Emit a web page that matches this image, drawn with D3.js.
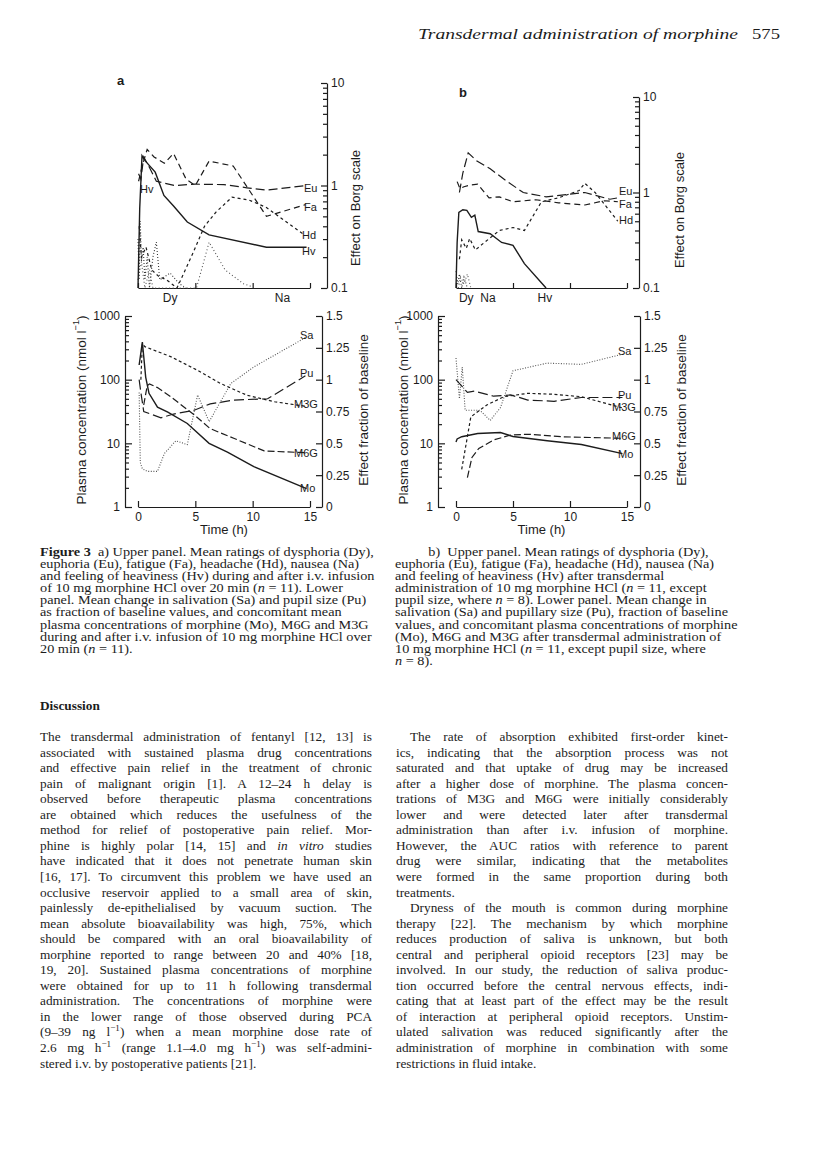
<!DOCTYPE html>
<html>
<head>
<meta charset="utf-8">
<script src="https://cdn.jsdelivr.net/npm/d3@7"></script>
<style>
  body { margin: 0; background: #fff; }
  svg { display: block; }
  text { white-space: pre; }
</style>
</head>
<body>
<svg id="page" width="816" height="1160"></svg>
<script>
// ---- data: upper panels, effect on Borg scale (hours, rating) ----
const upA_Eu = [[0.05,1.3],[0.25,1.15],[0.5,1.9],[1.0,1.5],[1.6,1.1],[3.2,1.0],[5,1.03],[7.5,1.02],[9.5,0.95],[11.2,0.9],[14.7,1.0]];
const upA_Fa = [[0.05,1.1],[0.4,1.6],[0.8,2.25],[1.4,1.9],[2.3,1.65],[3.1,2.05],[4.2,1.15],[5.0,1.0],[6.2,1.73],[8.3,1.55],[9.7,0.9],[11.2,0.5],[14.6,0.65]];
const upA_Hd = [[0.1,0.4],[0.3,0.2],[0.7,0.25],[1.2,0.15],[1.8,0.13],[2.5,0.12],[3.4,0.1],[4.8,0.22],[5.8,0.4],[6.8,0.55],[8.2,0.77],[9.7,0.72],[11.2,0.61],[14.5,0.33]];
const upA_Hv = [[0,0.1],[0.15,0.6],[0.35,1.95],[0.65,1.73],[1.5,1.35],[2.26,0.8],[3.1,0.63],[4.3,0.44],[6.2,0.33],[11.2,0.25],[14.7,0.25]];
const upA_Dy = [[0,0.3],[0.1,0.12],[0.2,0.45],[0.3,0.18],[0.45,0.25],[0.6,0.12],[0.8,0.2],[1.0,0.1],[1.3,0.2],[1.6,0.28],[1.9,0.12],[2.8,0.14],[3.6,0.11],[4.2,0.1]];
const upA_Na = [[0,0.12],[0.3,0.18],[0.6,0.1],[1.0,0.15],[1.3,0.1],[5.1,0.1],[6.2,0.28],[7.6,0.15],[9.2,0.11],[10.3,0.1]];

const upB_Eu = [[0.3,1.0],[0.6,1.6],[1.07,2.6],[1.8,2.15],[3,1.77],[4.5,1.3],[5.9,1.0],[7.9,0.9],[11.3,1.0],[13.5,0.85],[14.2,0.88]];
const upB_Fa = [[0.1,1.3],[0.35,1.1],[0.7,1.15],[1.3,1.2],[1.9,1.22],[2.9,0.88],[3.8,0.9],[5,0.8],[7,0.84],[9,0.78],[11.3,0.74],[13,0.82],[14.2,0.8]];
const upB_Hd = [[0.3,0.2],[0.5,0.32],[0.9,0.26],[1.2,0.33],[1.7,0.25],[2.5,0.3],[3.8,0.4],[5,0.43],[6,0.4],[7.5,0.8],[9,0.88],[10.8,1.05],[11.3,1.25],[12.2,1.0],[14.2,0.5]];
const upB_Hv = [[0,0.1],[0.1,0.3],[0.25,0.62],[0.6,0.66],[0.95,0.65],[1.35,0.55],[1.65,0.58],[1.95,0.39],[3,0.37],[4,0.3],[5,0.28],[6,0.18],[7.9,0.1]];
const upB_Dy = [[0,0.15],[0.15,0.11],[0.3,0.14],[0.5,0.1],[0.7,0.13],[1.0,0.1]];
const upB_Na = [[0.2,0.1],[0.4,0.13],[0.7,0.11],[1.0,0.14],[1.3,0.1]];

// ---- data: lower panels, plasma conc. (nmol/l) and effect fraction ----
const loA_Mo  = [[0.1,170],[0.38,390],[0.67,110],[0.96,61],[1.7,37],[2.6,31],[4.3,20.5],[6.2,10],[7.8,7.3],[10.1,4.3],[14.7,1.95]];
const loA_M6G = [[0.5,40],[0.8,80],[1.0,86],[1.7,75],[2.85,54],[4.9,28],[6.3,17],[8.4,11.9],[11,7.6],[14.7,7.1]];
const loA_M3G = [[0.25,100],[0.38,370],[0.6,330],[2.85,230],[5.2,140],[7.2,87],[9.5,57],[11.9,45],[14.7,38]];
const loA_Pu  = [[0.1,1.0],[0.25,0.9],[0.5,0.75],[1.1,0.73],[2.0,0.7],[3.1,0.73],[4.9,0.76],[6.3,0.81],[8.4,0.84],[11.3,0.85],[14.6,1.03]];
const loA_Sa  = [[0.1,0.9],[0.2,0.35],[0.38,0.3],[0.8,0.28],[1.7,0.28],[2.3,0.42],[3.3,0.52],[4.3,0.49],[5.2,0.88],[6.2,0.67],[8.1,0.97],[10.1,1.1],[14.6,1.33]];

const loB_Mo  = [[0,10.5],[0.1,11.7],[0.5,12.7],[1.9,14.3],[3.9,14.8],[5,12.8],[8,11],[11,9.6],[14.6,6.9]];
const loB_M6G = [[1.0,2.9],[1.4,6.0],[2,8.3],[3.3,11.3],[4.8,13.5],[6.3,13.9],[9.2,12.7],[14.6,12]];
const loB_M3G = [[0.5,3.9],[1.3,26],[2.7,40],[4.2,54],[6.3,61],[8.6,59],[11,54],[14.6,36]];
const loB_Pu  = [[0,1.0],[1.0,0.9],[1.6,0.91],[3.3,0.87],[4.8,0.88],[6.3,0.84],[8.6,0.83],[11,0.86],[14.6,0.86]];
const loB_Sa  = [[0,1.17],[0.3,0.85],[0.55,1.1],[0.8,0.76],[2.1,0.76],[3,0.68],[3.9,0.78],[5,1.07],[8,1.13],[11,1.12],[14.6,1.2]];

// tick labels / names
const timeTicks = [0, 5, 10, 15];
const borgTicks = [0.1, 1, 10];
const concTicks = [1, 10, 100, 1000];
const fracTicks = [0, 0.25, 0.5, 0.75, 1, 1.25, 1.5];
const bottomNamesA = [["Dy", 2.8], ["Na", 12.6]];
const bottomNamesB = [["Dy", 0.9], ["Na", 2.8], ["Hv", 7.8]];

// ---- text ----
const headerTitle = "Transdermal administration of morphine";
const headerPage = "575";
const captionA = [
  "*Figure 3*  a) Upper panel. Mean ratings of dysphoria (Dy),",
  "euphoria (Eu), fatigue (Fa), headache (Hd), nausea (Na)",
  "and feeling of heaviness (Hv) during and after i.v. infusion",
  "of 10 mg morphine HCl over 20 min (_n_ = 11). Lower",
  "panel. Mean change in salivation (Sa) and pupil size (Pu)",
  "as fraction of baseline values, and concomitant mean",
  "plasma concentrations of morphine (Mo), M6G and M3G",
  "during and after i.v. infusion of 10 mg morphine HCl over",
  "20 min (_n_ = 11)."
];
const captionB = [
  "b)  Upper panel. Mean ratings of dysphoria (Dy),",
  "euphoria (Eu), fatigue (Fa), headache (Hd), nausea (Na)",
  "and feeling of heaviness (Hv) after transdermal",
  "administration of 10 mg morphine HCl (_n_ = 11, except",
  "pupil size, where _n_ = 8). Lower panel. Mean change in",
  "salivation (Sa) and pupillary size (Pu), fraction of baseline",
  "values, and concomitant plasma concentrations of morphine",
  "(Mo), M6G and M3G after transdermal administration of",
  "10 mg morphine HCl (_n_ = 11, except pupil size, where",
  "_n_ = 8)."
];
// "|" marks the last (unjustified) line of a paragraph, ">" an indented first line
const bodyLeft = [
  "The transdermal administration of fentanyl [12, 13] is",
  "associated with sustained plasma drug concentrations",
  "and effective pain relief in the treatment of chronic",
  "pain of malignant origin [1]. A 12–24 h delay is",
  "observed before therapeutic plasma concentrations",
  "are obtained which reduces the usefulness of the",
  "method for relief of postoperative pain relief. Mor-",
  "phine is highly polar [14, 15] and _in vitro_ studies",
  "have indicated that it does not penetrate human skin",
  "[16, 17]. To circumvent this problem we have used an",
  "occlusive reservoir applied to a small area of skin,",
  "painlessly de-epithelialised by vacuum suction. The",
  "mean absolute bioavailability was high, 75%, which",
  "should be compared with an oral bioavailability of",
  "morphine reported to range between 20 and 40% [18,",
  "19, 20]. Sustained plasma concentrations of morphine",
  "were obtained for up to 11 h following transdermal",
  "administration. The concentrations of morphine were",
  "in the lower range of those observed during PCA",
  "(9–39 ng l^−1^) when a mean morphine dose rate of",
  "2.6 mg h^−1^ (range 1.1–4.0 mg h^−1^) was self-admini-",
  "|stered i.v. by postoperative patients [21]."
];
const bodyRight = [
  ">The rate of absorption exhibited first-order kinet-",
  "ics, indicating that the absorption process was not",
  "saturated and that uptake of drug may be increased",
  "after a higher dose of morphine. The plasma concen-",
  "trations of M3G and M6G were initially considerably",
  "lower and were detected later after transdermal",
  "administration than after i.v. infusion of morphine.",
  "However, the AUC ratios with reference to parent",
  "drug were similar, indicating that the metabolites",
  "were formed in the same proportion during both",
  "|treatments.",
  ">Dryness of the mouth is common during morphine",
  "therapy [22]. The mechanism by which morphine",
  "reduces production of saliva is unknown, but both",
  "central and peripheral opioid receptors [23] may be",
  "involved. In our study, the reduction of saliva produc-",
  "tion occurred before the central nervous effects, indi-",
  "cating that at least part of the effect may be the result",
  "of interaction at peripheral opioid receptors. Unstim-",
  "ulated salivation was reduced significantly after the",
  "administration of morphine in combination with some",
  "|restrictions in fluid intake."
];

const ink = "#1c1c1c";
const serif = "'Liberation Serif', 'DejaVu Serif', serif";
const sans = "'Liberation Sans', Arial, sans-serif";
const svg = d3.select("#page");

// rich text: *bold*, _italic_, ^superscript^
function richText(g, str, x, y, size, family, justify) {
  const t = g.append("text").attr("x", x).attr("y", y)
    .attr("font-size", size).attr("font-family", family).attr("fill", ink);
  const parts = str.split(/(\*[^*]+\*|_[^_]+_|\^[^^]+\^)/).filter(s => s.length);
  let raised = false;
  parts.forEach(p => {
    const kind = p[0];
    const ts = t.append("tspan");
    if (kind === "*") ts.text(p.slice(1, -1)).attr("font-weight", "bold");
    else if (kind === "_") ts.text(p.slice(1, -1)).attr("font-style", "italic");
    else if (kind === "^") {
      ts.text(p.slice(1, -1)).attr("font-size", size * 0.68).attr("dy", -size * 0.4);
      raised = true;
      return;
    } else ts.text(p);
    if (raised) { ts.attr("dy", size * 0.4); raised = false; }
  });
  if (justify) {
    const len = t.node().getComputedTextLength();
    const spaces = (str.replace(/[*_^]/g, "").match(/ /g) || []).length;
    if (spaces) t.attr("word-spacing", (justify - len) / spaces);
  }
  return t;
}

function column(lines, x, y0, width, indent) {
  lines.forEach((ln, i) => {
    let s = ln, ind = false, last = false;
    if (s[0] === ">") { ind = true; s = s.slice(1); }
    if (s[0] === "|") { last = true; s = s.slice(1); }
    richText(svg, s, x + (ind ? indent : 0), y0 + i * 15.55, 13.3, serif,
      last ? null : width - (ind ? indent : 0));
  });
}

function caption(lines, x, firstIndent) {
  // the scanned caption type is wider than Liberation Serif at this line height
  const g = svg.append("g").attr("transform", `translate(${x},0) scale(1.15,1)`);
  lines.forEach((ln, i) => richText(g, ln, i === 0 ? firstIndent : 0, 556 + i * 12.1, 12.4, serif, null));
}

// ---- header ----
svg.append("text").attr("x", 418).attr("y", 39).attr("font-size", 15.5).attr("font-family", serif)
  .attr("font-style", "italic").attr("fill", ink)
  .attr("textLength", 320).attr("lengthAdjust", "spacingAndGlyphs").text(headerTitle);
svg.append("text").attr("x", 752).attr("y", 39).attr("font-size", 15.5).attr("font-family", serif)
  .attr("fill", ink).attr("textLength", 28).attr("lengthAdjust", "spacingAndGlyphs").text(headerPage);

// ---- helpers for charts ----
function minorLog(lo, hi) {
  const out = [];
  for (let d = lo; d < hi; d *= 10) for (let k = 2; k <= 9; k++) out.push(+(d * k).toPrecision(3));
  return out;
}
function styleAxis(g, size) {
  g.selectAll("text").attr("font-size", size || 12).attr("font-family", sans).attr("fill", ink);
  g.selectAll("line, path").attr("stroke", ink).attr("stroke-width", 1.2);
}
function drawLine(g, data, x, y, dash, color, width) {
  g.append("path").datum(data)
    .attr("fill", "none").attr("stroke", color || ink).attr("stroke-width", width || 1.2)
    .attr("stroke-dasharray", dash || null)
    .attr("d", d3.line().x(d => x(d[0])).y(d => y(d[1])));
}
function label(g, txt, x, y, size, anchor) {
  g.append("text").attr("x", x).attr("y", y).attr("font-size", size || 11)
    .attr("font-family", sans).attr("fill", ink).attr("text-anchor", anchor || "start")
    .attr("dominant-baseline", "middle").text(txt);
}
function vLabel(g, str, cx, cy, size) {
  const gg = g.append("g").attr("transform", `translate(${cx},${cy}) rotate(-90)`);
  const t = richText(gg, str, 0, 0, size, sans, null);
  t.attr("text-anchor", "middle").attr("dominant-baseline", "middle");
}

// ---- upper panel (Borg scale, log) ----
function upperPanel(p) {
  const g = svg.append("g");
  const x = d3.scaleLinear().domain([0, 15]).range([p.x0, p.x1]);
  const y = d3.scaleLog().domain([0.1, 10]).range([p.bottom, p.top]);

  const ax = g.append("g").attr("transform", `translate(${p.axisX},0)`)
    .call(d3.axisRight(y).tickValues(borgTicks).tickFormat(d3.format("~g"))
      .tickSizeInner(-6).tickSizeOuter(0).tickPadding(4));
  styleAxis(ax);
  const mn = g.append("g").attr("transform", `translate(${p.axisX},0)`)
    .call(d3.axisRight(y).tickValues(minorLog(0.1, 10)).tickFormat("").tickSizeInner(-4).tickSizeOuter(0));
  mn.select(".domain").remove();
  styleAxis(mn);

  const bx = g.append("g").attr("transform", `translate(0,${p.bottom})`)
    .call(d3.axisBottom(x).tickValues(timeTicks).tickFormat("").tickSizeInner(-5).tickSizeOuter(0));
  styleAxis(bx);
  p.names.forEach(n => label(g, n[0], x(n[1]), p.bottom + 11, 12, "middle"));

  drawLine(g, p.s.Dy, x, y, "1,2", "#333", 1.1);
  drawLine(g, p.s.Na, x, y, "1,2.5", "#555", 1.1);
  drawLine(g, p.s.Hd, x, y, "3,3");
  drawLine(g, p.s.Fa, x, y, "6,4");
  drawLine(g, p.s.Eu, x, y, "9,4");
  drawLine(g, p.s.Hv, x, y, null, ink, 1.4);
  p.tags.forEach(t => label(g, t[0], t[1], t[2]));

  vLabel(g, "Effect on Borg scale", p.titleX, p.titleY, 13);
  g.append("text").attr("x", p.letter[0]).attr("y", p.letter[1]).attr("font-size", 13)
    .attr("font-weight", "bold").attr("font-family", sans).attr("fill", ink).text(p.letter[2]);
}

// ---- lower panel (plasma conc. log + effect fraction linear) ----
function lowerPanel(p) {
  const g = svg.append("g");
  const x = d3.scaleLinear().domain([0, 15]).range([p.x0, p.x1]);
  const yC = d3.scaleLog().domain([1, 1000]).range([507, 316]);
  const yF = d3.scaleLinear().domain([0, 1.5]).range([507, 316]);

  const la = g.append("g").attr("transform", `translate(${p.leftX},0)`)
    .call(d3.axisLeft(yC).tickValues(concTicks).tickFormat(d3.format("d"))
      .tickSizeInner(-7).tickSizeOuter(0).tickPadding(5));
  styleAxis(la);
  const lm = g.append("g").attr("transform", `translate(${p.leftX},0)`)
    .call(d3.axisLeft(yC).tickValues(minorLog(1, 1000)).tickFormat("").tickSizeInner(-4).tickSizeOuter(0));
  lm.select(".domain").remove();
  styleAxis(lm);

  const ra = g.append("g").attr("transform", `translate(${p.rightX},0)`)
    .call(d3.axisRight(yF).tickValues(fracTicks).tickFormat(d3.format("~g"))
      .tickSizeInner(-6).tickSizeOuter(0).tickPadding(4));
  styleAxis(ra);

  const bx = g.append("g").attr("transform", `translate(0,507)`)
    .call(d3.axisBottom(x).tickValues(timeTicks).tickFormat(d3.format("d"))
      .tickSizeInner(-6).tickSizeOuter(0).tickPadding(5));
  styleAxis(bx);
  label(g, "Time (h)", (p.x0 + p.x1) / 2, 531, 13, "middle");

  drawLine(g, p.s.Sa, x, yF, "1,1.6", "#555", 1.1);
  drawLine(g, p.s.M3G, x, yC, "3,2.5");
  drawLine(g, p.s.M6G, x, yC, "7,3");
  drawLine(g, p.s.Pu, x, yF, "10,4");
  drawLine(g, p.s.Mo, x, yC, null, ink, 1.4);
  p.tags.forEach(t => label(g, t[0], t[1], t[2]));

  vLabel(g, "Plasma concentration (nmol l^−1^)", p.leftTitleX, 410, 13.5);
  vLabel(g, "Effect fraction of baseline", p.rightTitleX, 410, 13.5);
}

upperPanel({
  x0: 138, x1: 310, top: 83, bottom: 288, axisX: 327,
  s: { Eu: upA_Eu, Fa: upA_Fa, Hd: upA_Hd, Hv: upA_Hv, Dy: upA_Dy, Na: upA_Na },
  names: bottomNamesA,
  tags: [["Eu", 304, 189], ["Fa", 304, 208], ["Hd", 302, 236], ["Hv", 302, 252], ["Hv", 140, 190]],
  titleX: 357, titleY: 208, letter: [117, 85, "a"]
});
upperPanel({
  x0: 456, x1: 627, top: 97, bottom: 288, axisX: 639,
  s: { Eu: upB_Eu, Fa: upB_Fa, Hd: upB_Hd, Hv: upB_Hv, Dy: upB_Dy, Na: upB_Na },
  names: bottomNamesB,
  tags: [["Eu", 619, 192], ["Fa", 619, 205], ["Hd", 619, 221]],
  titleX: 681, titleY: 210, letter: [459, 97, "b"]
});
lowerPanel({
  x0: 138, x1: 310, leftX: 125, rightX: 322,
  s: { Mo: loA_Mo, M6G: loA_M6G, M3G: loA_M3G, Pu: loA_Pu, Sa: loA_Sa },
  tags: [["Sa", 300, 336], ["Pu", 300, 374], ["M3G", 294, 405], ["M6G", 294, 454], ["Mo", 300, 489]],
  leftTitleX: 82, rightTitleX: 364
});
lowerPanel({
  x0: 456, x1: 627, leftX: 438, rightX: 640,
  s: { Mo: loB_Mo, M6G: loB_M6G, M3G: loB_M3G, Pu: loB_Pu, Sa: loB_Sa },
  tags: [["Sa", 618, 352], ["Pu", 618, 396], ["M3G", 612, 408], ["M6G", 612, 437], ["Mo", 618, 455]],
  leftTitleX: 404, rightTitleX: 682
});

// ---- captions ----
caption(captionA, 40, 0);
caption(captionB, 395, 29);

// ---- body ----
svg.append("text").attr("x", 40).attr("y", 710).attr("font-size", 13.3).attr("font-weight", "bold")
  .attr("font-family", serif).attr("fill", ink).text("Discussion");
column(bodyLeft, 40, 741, 332, 0);
column(bodyRight, 396, 741, 332, 14);
</script>
</body>
</html>
